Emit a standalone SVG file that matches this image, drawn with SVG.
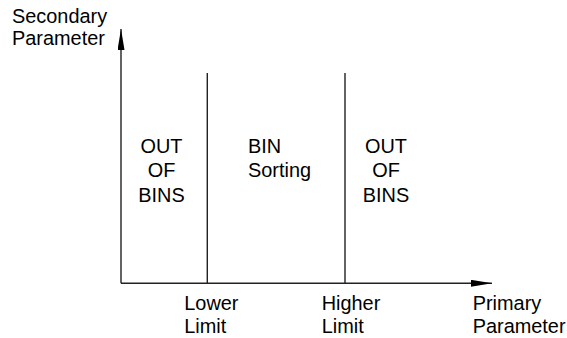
<svg xmlns="http://www.w3.org/2000/svg" width="567" height="338" viewBox="0 0 567 338">
<style>
text { font-family: "Liberation Sans", Arial, sans-serif; font-size: 19.9px; fill: #000; }
.ln { stroke: #222; stroke-width: 1.4; fill: none; }
.mid { text-anchor: middle; }
</style>
<defs>
<marker id="arr" viewBox="0 0 21 7" refX="21" refY="3.5" markerWidth="21" markerHeight="7" markerUnits="userSpaceOnUse" orient="auto">
<path d="M0,0 L21,3.5 L0,7 Z" fill="#000"/>
</marker>
</defs>
<rect width="567" height="338" fill="#fff"/>
<g id="connectors">
<line class="ln" x1="121" y1="283.3" x2="121" y2="29" marker-end="url(#arr)"/>
<line class="ln" x1="121" y1="283.3" x2="492" y2="283.3" marker-end="url(#arr)"/>
<line class="ln" x1="207.3" y1="73" x2="207.3" y2="283.3"/>
<line class="ln" x1="345" y1="73" x2="345" y2="283.3"/>
</g>
<g id="y-label">
<text x="12" y="23">Secondary</text>
<text x="12" y="45">Parameter</text>
</g>
<g id="out-left">
<text class="mid" x="161.5" y="152.7">OUT</text>
<text class="mid" x="161.5" y="177">OF</text>
<text class="mid" x="161.5" y="201.7">BINS</text>
</g>
<g id="bin-sorting">
<text x="248" y="152.7">BIN</text>
<text x="248" y="177">Sorting</text>
</g>
<g id="out-right">
<text class="mid" x="386" y="152.7">OUT</text>
<text class="mid" x="386" y="177">OF</text>
<text class="mid" x="386" y="201.7">BINS</text>
</g>
<g id="lower-limit">
<text x="184.3" y="310">Lower</text>
<text x="184.3" y="333.3">Limit</text>
</g>
<g id="higher-limit">
<text x="321.7" y="310">Higher</text>
<text x="321.7" y="333.3">Limit</text>
</g>
<g id="x-label">
<text x="472.7" y="310">Primary</text>
<text x="472.7" y="333.3">Parameter</text>
</g>
</svg>
